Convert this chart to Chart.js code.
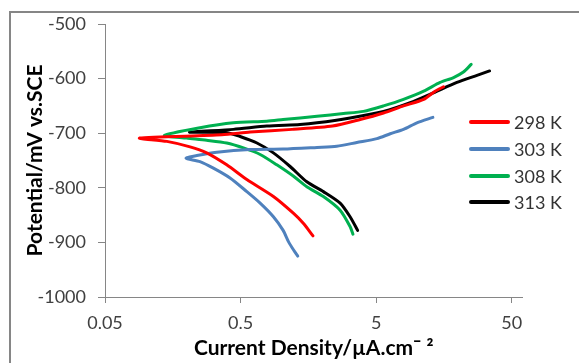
<!DOCTYPE html>
<html><head><meta charset="utf-8">
<script src="https://cdn.jsdelivr.net/npm/chart.js@4.4.1/dist/chart.umd.min.js"></script>
<style>
html,body{margin:0;padding:0;background:#fff;}
#wrap{position:relative;width:579px;height:363px;overflow:hidden;background:#fff;}
#frame{position:absolute;left:9px;top:11px;width:620px;height:420px;border:2px solid #868686;box-sizing:border-box;}
#c{position:absolute;left:0;top:0;}
#legend{position:absolute;left:469px;top:0;font-family:Lato,sans-serif;font-size:18px;color:#333;}
.item{position:absolute;left:0;height:20px;white-space:nowrap;}
.item span.ln{position:absolute;left:0;top:8px;width:41px;height:4px;border-radius:2px;}
.item span.tx{position:absolute;left:45px;top:0;line-height:20px;}
</style>
</head><body>
<div id="wrap">
<div id="frame"></div>
<canvas id="c" width="579" height="363"></canvas>
<div id="legend"></div>
</div>
<script>
// ---- data ----
const seriesNames = ['298 K', '303 K', '308 K', '313 K'];
const seriesColors = ['#FF0000', '#4F81BD', '#00B050', '#000000'];
const xTicks = [0.05, 0.5, 5, 50];
const yTicks = [-1000, -900, -800, -700, -600, -500];

const x298 = [1.71, 1.45, 1.23, 0.873, 0.556, 0.395, 0.281, 0.212, 0.143, 0.09, 0.363, 0.588, 1.2, 2.38, 3.81, 5.66, 7.95, 11.2, 13.6, 15.7];
const y298 = [-888, -865, -847, -816, -785, -758, -736, -725, -715, -709, -703, -698, -693, -687, -675, -663, -650, -638, -623, -615];

const x303 = [1.32, 1.23, 1.13, 1.03, 0.873, 0.697, 0.556, 0.418, 0.315, 0.251, 0.198, 0.238, 0.334, 0.588, 1.03, 1.83, 2.56, 3.6, 5.06, 6.35, 7.95, 9.98, 13.1];
const y303 = [-925, -914, -899, -878, -853, -828, -807, -782, -764, -752, -746, -741, -735, -730, -729, -726, -724, -717, -710, -701, -693, -681, -671];

const x308 = [3.37, 3.21, 2.71, 2.04, 1.54, 1.23, 0.925, 0.697, 0.525, 0.395, 0.281, 0.2, 0.137, 0.251, 0.442, 0.78, 1.03, 1.83, 2.87, 4.03, 5.66, 7.95, 11.2, 14.8, 18.6, 22, 25.1];
const y308 = [-885, -871, -841, -816, -798, -779, -758, -739, -727, -718, -713, -709, -704, -690, -681, -678, -675, -669, -664, -660, -650, -638, -623, -607, -598, -588, -574];

const x313 = [3.65, 3.21, 2.71, 2.04, 1.54, 1.16, 0.873, 0.66, 0.496, 0.395, 0.21, 0.442, 0.78, 1.37, 1.83, 3.21, 5.66, 8.91, 13.2, 19.7, 27.7, 34.3];
const y313 = [-878, -853, -828, -807, -789, -761, -736, -718, -706, -699, -698, -693, -687, -684, -681, -672, -660, -644, -626, -607, -594, -586];

const xs = [x298, x303, x308, x313];
const ys = [y298, y303, y308, y313];

function draw(){
  Chart.defaults.font.family = 'Lato, sans-serif';
  const datasets = seriesNames.map((n, i) => ({
    label: n,
    data: xs[i].map((x, j) => ({x: x, y: ys[i][j]})),
    showLine: true,
    borderColor: seriesColors[i],
    backgroundColor: seriesColors[i],
    borderWidth: 3,
    pointRadius: 0,
    tension: 0.25,
    fill: false,
    borderCapStyle: 'round',
    borderJoinStyle: 'round'
  }));
  new Chart(document.getElementById('c'), {
    type: 'scatter',
    data: {datasets},
    options: {
      responsive: false,
      animation: false,
      events: [],
      layout: {padding: {left: 14, top: 24, right: 56.5, bottom: 0}},
      plugins: {legend: {display: false}, tooltip: {enabled: false}},
      scales: {
        x: {
          type: 'logarithmic',
          min: 0.05, max: 60,
          afterBuildTicks: s => { s.ticks = xTicks.map(v => ({value: v})); },
          afterFit: s => { s.height = 66; },
          ticks: {callback: v => String(v), color: '#404040', font: {size: 18}, padding: 9, maxRotation: 0, autoSkip: false},
          grid: {drawOnChartArea: false, tickLength: 6, color: '#868686'},
          border: {color: '#868686', width: 1},
          title: {display: true, text: 'Current Density/µA.cm¯ ²', color: '#000', font: {size: 21, weight: 'bold'}, padding: {top: 0, bottom: 2}}
        },
        y: {
          min: -1000, max: -500,
          afterBuildTicks: s => { s.ticks = yTicks.map(v => ({value: v})); },
          afterFit: s => { s.width = 91; },
          ticks: {callback: v => String(v), color: '#404040', font: {size: 18}, padding: 12},
          grid: {drawOnChartArea: false, tickLength: 7, color: '#868686'},
          border: {color: '#868686', width: 1},
          title: {display: true, text: 'Potential/mV vs.SCE', color: '#000', font: {size: 21, weight: 'bold'}, padding: {top: 9, bottom: 0}}
        }
      }
    }
  });
  const lg = document.getElementById('legend');
  const rowCenters = [122, 149, 176, 202];
  seriesNames.forEach((n, i) => {
    const d = document.createElement('div');
    d.className = 'item';
    d.style.top = (rowCenters[i] - 10) + 'px';
    d.innerHTML = '<span class="ln" style="background:' + seriesColors[i] + '"></span><span class="tx">' + n + '</span>';
    lg.appendChild(d);
  });
}
Promise.all([
  document.fonts.load('18px Lato'),
  document.fonts.load('bold 21px Lato')
]).then(draw, draw);
</script>
</body></html>
